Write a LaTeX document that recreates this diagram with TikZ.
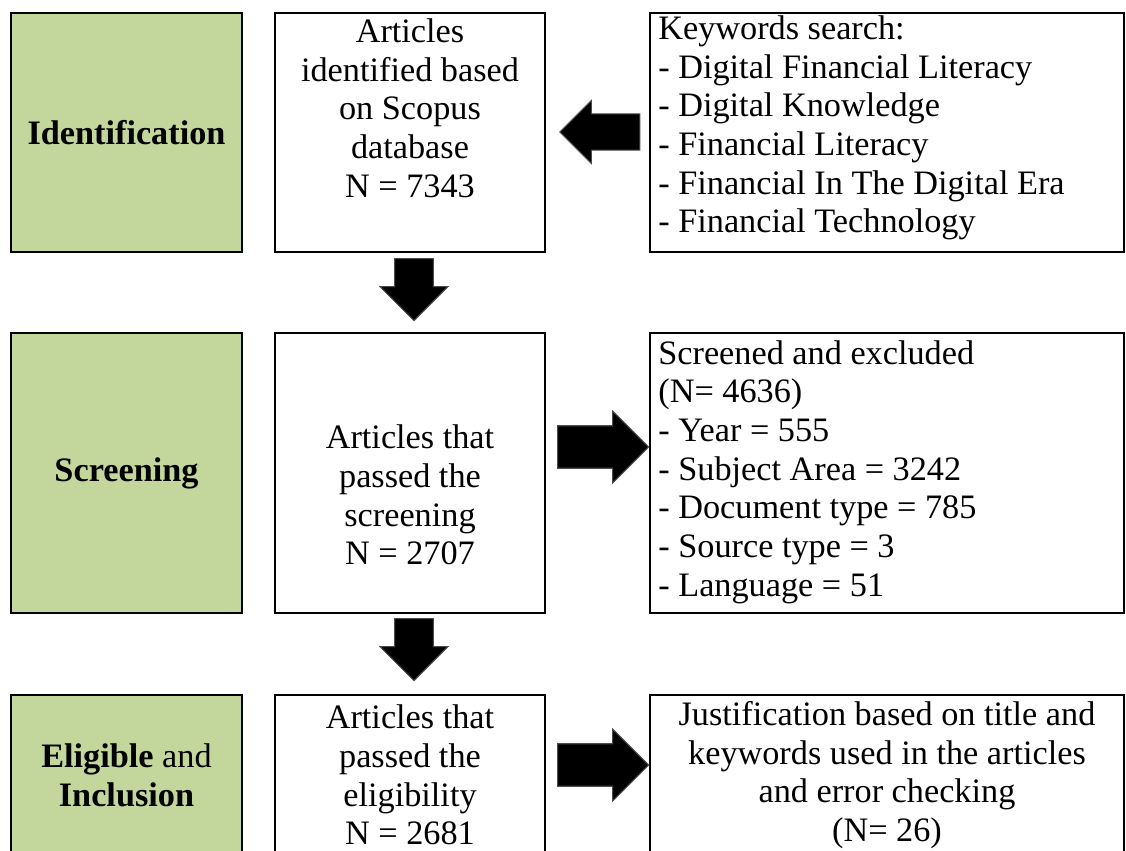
\documentclass[tikz,border=0pt]{standalone}
\usepackage{fontspec}
\setmainfont{Liberation Serif}
\usepackage{xcolor}
\usepackage{tikz}
\usetikzlibrary{arrows.meta, positioning, shapes.arrows}
\definecolor{stagegreen}{RGB}{195,214,155}
\tikzset{
	stagebox/.style={draw, line width=1.6pt, fill=stagegreen, minimum width=4.62cm, minimum height=#1},
	infobox/.style={draw, line width=1.6pt, fill=white, minimum width=#1},
	boxtext/.style={align=center, inner sep=0pt, font=\fontsize{19.5}{22}\selectfont},
	listtext/.style={align=left, anchor=west, inner sep=0pt, font=\fontsize{19.5}{22}\selectfont},
	blockarr/.style={single arrow, fill=black, draw=black!70, line width=0.6pt, inner sep=#1},
}

\begin{document}
\begin{tikzpicture}[x=0.02cm, y=-0.02cm]
	\useasboundingbox (0,0) rectangle (1126,850);
	\node[stagebox=4.78cm] (ident) at (126.5,132.5) {};
	\node[infobox=5.4cm, minimum height=4.78cm] (found) at (410,132.5) {};
	\node[infobox=9.48cm, minimum height=4.78cm] (keys) at (887,132.5) {};
	\node[stagebox=5.6cm] (screen) at (126.5,473) {};
	\node[infobox=5.4cm, minimum height=5.6cm] (passed) at (410,473) {};
	\node[infobox=9.48cm, minimum height=5.6cm] (excl) at (887,473) {};
	\node[stagebox=3.2cm] (elig) at (126.5,775) {};
	\node[infobox=5.4cm, minimum height=3.2cm] (incl) at (410,775) {};
	\node[infobox=9.48cm, minimum height=3.2cm] (just) at (887,775) {};

	\node[boxtext] (identtxt) at (ident) {\textbf{Identification}};
	\node[boxtext] (foundtxt) at (410,108) {Articles\\identified based\\on Scopus\\database\\N = 7343};
	\node[listtext] (keystxt) at (658,128) {Keywords search:\\- Digital Financial Literacy\\- Digital Knowledge\\- Financial Literacy\\- Financial In The Digital Era\\- Financial Technology};
	\node[boxtext] (screentxt) at (screen) {\textbf{Screening}};
	\node[boxtext] (passedtxt) at (410,495) {Articles that\\passed the\\screening\\N = 2707};
	\node[listtext] (excltxt) at (658,472) {Screened and excluded\\(N= 4636)\\- Year = 555\\- Subject Area = 3242\\- Document type = 785\\- Source type = 3\\- Language = 51};
	\node[boxtext] (eligtxt) at (elig) {\textbf{Eligible} and\\\textbf{Inclusion}};
	\node[boxtext] (incltxt) at (incl) {Articles that\\passed the\\eligibility\\N = 2681};
	\node[boxtext] (justtxt) at (just) {Justification based on title and\\keywords used in the articles\\and error checking\\(N= 26)};

	\node[blockarr=0.33cm, shape border rotate=180, minimum height=1.6cm, minimum width=1.26cm] (keysarr) at (609,132) {};
	\node[blockarr=0.32cm, shape border rotate=270, minimum height=1.24cm, minimum width=1.36cm] (downa) at (414,280) {};
	\node[blockarr=0.32cm, shape border rotate=270, minimum height=1.24cm, minimum width=1.36cm] (downb) at (414,640) {};
	\node[blockarr=0.35cm, minimum height=1.82cm, minimum width=1.44cm] (exclarr) at (592.5,447) {};
	\node[blockarr=0.35cm, minimum height=1.82cm, minimum width=1.44cm] (justarr) at (592.5,765) {};
\end{tikzpicture}
\end{document}
